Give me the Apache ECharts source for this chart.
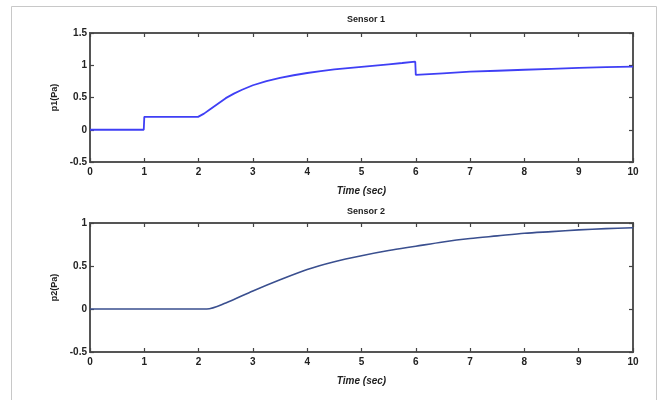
<!DOCTYPE html>
<html>
<head>
<meta charset="utf-8">
<script src="https://cdn.jsdelivr.net/npm/echarts@6/dist/echarts.min.js"></script>
<style>html,body{margin:0;padding:0;background:#fff}#c{width:660px;height:400px}</style>
</head>
<body>
<div id="c"></div>
<script>
// Sensor 1 (time, p1)
var t1 = [0, 0.99, 1, 1.99, 2, 2.1, 2.2, 2.35, 2.5, 2.65, 2.8, 3, 3.25, 3.5, 3.75, 4, 4.25, 4.5, 4.75, 5, 5.25, 5.5, 5.75, 5.99, 6, 6.5, 7, 7.5, 8, 8.5, 9, 9.5, 10];
var p1 = [0, 0, 0.2, 0.2, 0.2, 0.25, 0.31, 0.40, 0.49, 0.56, 0.62, 0.69, 0.755, 0.805, 0.845, 0.88, 0.91, 0.935, 0.955, 0.975, 0.995, 1.015, 1.035, 1.055, 0.85, 0.875, 0.9, 0.915, 0.93, 0.945, 0.96, 0.97, 0.98];
// Sensor 2 (time, p2)
var t2 = [0, 1, 2, 2.15, 2.5, 3, 3.5, 4, 4.5, 5, 5.5, 6, 6.5, 7, 7.5, 8, 8.5, 9, 9.5, 10];
var p2 = [0, 0, 0, 0, 0.07, 0.21, 0.34, 0.46, 0.55, 0.62, 0.68, 0.73, 0.78, 0.82, 0.85, 0.88, 0.90, 0.92, 0.935, 0.945];
var xTicks = [0, 1, 2, 3, 4, 5, 6, 7, 8, 9, 10];
var titles = ["Sensor 1", "Sensor 2"];
var yNames = ["p1(Pa)", "p2(Pa)"];
var xName = "Time (sec)";

function pairs(a, b) { return a.map(function (v, i) { return [v, b[i]]; }); }

var FONT = "Liberation Sans";
var lab = { color: "#222", fontSize: 10, fontWeight: "bold", fontFamily: FONT };

function xAx(gi, pos, show) {
  return {
    type: "value", gridIndex: gi, position: pos, min: 0, max: 10, interval: 1,
    axisLine: { show: false, onZero: false },
    axisTick: { show: true, inside: true, length: 4, lineStyle: { color: "#444", width: 1.2 } },
    axisLabel: show ? Object.assign({ margin: 5, formatter: function (v) { return String(v); } }, lab) : { show: false },
    splitLine: { show: false },
    name: show ? xName : "", nameLocation: "middle", nameGap: 24,
    nameTextStyle: { color: "#222", fontSize: 10, fontWeight: "bold", fontStyle: "italic", fontFamily: FONT }
  };
}
function yAx(gi, pos, show, min, max) {
  return {
    type: "value", gridIndex: gi, position: pos, min: min, max: max, interval: 0.5,
    axisLine: { show: false, onZero: false },
    axisTick: { show: true, inside: true, length: 4, lineStyle: { color: "#444", width: 1.2 } },
    axisLabel: show ? Object.assign({ margin: 3 }, lab) : { show: false },
    splitLine: { show: false },
    name: show ? yNames[gi] : "", nameLocation: "middle", nameRotate: 90, nameGap: 31,
    nameTextStyle: { color: "#222", fontSize: 9, fontWeight: "bold", fontFamily: FONT }
  };
}

var chart = echarts.init(document.getElementById("c"), null, { renderer: "canvas" });
chart.setOption({
  animation: false,
  backgroundColor: "#fff",
  graphic: [{ type: "rect", shape: { x: 11.5, y: 6.5, width: 645, height: 400 }, style: { fill: "none", stroke: "#c8c8c8", lineWidth: 1 } }],
  title: [
    { text: titles[0], left: 361, top: 10, textAlign: "center", textStyle: { color: "#222", fontSize: 9, fontWeight: "bold", fontFamily: FONT } },
    { text: titles[1], left: 361, top: 202, textAlign: "center", textStyle: { color: "#222", fontSize: 9, fontWeight: "bold", fontFamily: FONT } }
  ],
  grid: [
    { left: 90, top: 33, width: 543, height: 129, show: true, borderColor: "#555", borderWidth: 2, backgroundColor: "#fff" },
    { left: 90, top: 223, width: 543, height: 129, show: true, borderColor: "#555", borderWidth: 2, backgroundColor: "#fff" }
  ],
  xAxis: [xAx(0, "bottom", true), xAx(0, "top", false), xAx(1, "bottom", true), xAx(1, "top", false)],
  yAxis: [yAx(0, "left", true, -0.5, 1.5), yAx(0, "right", false, -0.5, 1.5), yAx(1, "left", true, -0.5, 1), yAx(1, "right", false, -0.5, 1)],
  series: [
    { type: "line", xAxisIndex: 0, yAxisIndex: 0, data: pairs(t1, p1), showSymbol: false, smooth: false, lineStyle: { color: "#3f3ff5", width: 1.8 } },
    { type: "line", xAxisIndex: 2, yAxisIndex: 2, data: pairs(t2, p2), showSymbol: false, smooth: 0.3, lineStyle: { color: "#3a4f8f", width: 1.6 } }
  ]
});
</script>
</body>
</html>
